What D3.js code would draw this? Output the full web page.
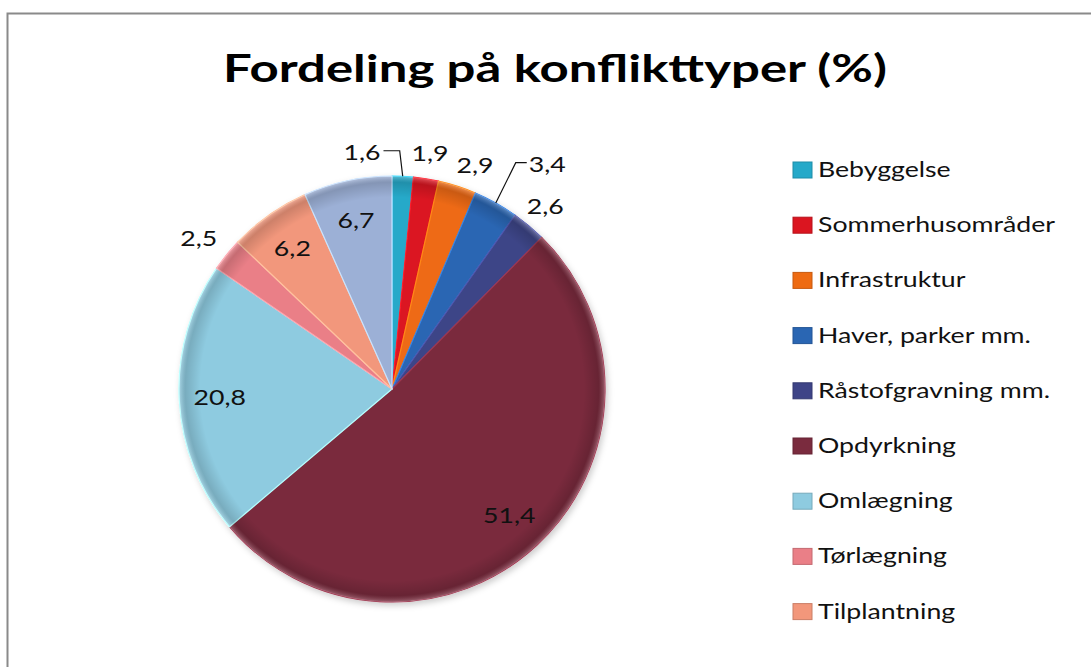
<!DOCTYPE html>
<html>
<head>
<meta charset="utf-8">
<script src="https://cdn.jsdelivr.net/npm/d3@7"></script>
<style>
	body { margin: 0; background: #fff; }
	svg { display: block; font-family: Lato, 'Open Sans', sans-serif; }
</style>
</head>
<body>
<svg></svg>
<script>

// Data
const categories = [ 'Bebyggelse', 'Sommerhusområder', 'Infrastruktur', 'Haver, parker mm.', 'Råstofgravning mm.', 'Opdyrkning', 'Omlægning', 'Tørlægning', 'Tilplantning', null ]
const values = [ 1.6, 1.9, 2.9, 3.4, 2.6, 51.4, 20.8, 2.5, 6.2, 6.7 ]
const colors = [ '#25a9c9', '#db1520', '#ee6b12', '#2a66b3', '#3e4487', '#7a2b3e', '#8ecbe0', '#ea7f87', '#f2977b', '#9cb0d6' ]
const titleText = 'Fordeling på konflikttyper (%)'

const WIDTH = 1091,
	HEIGHT = 667,
	cx = 392,
	cy = 389,
	radius = 213,
	stretch = 1.27 // tekst is horizontaal uitgerekt in het origineel

const svg = d3.select( 'svg' )
	.attr( 'width', WIDTH )
	.attr( 'height', HEIGHT )

const defs = svg.append( 'defs' )

// kader, loopt rechts en onder buiten beeld
svg.append( 'rect' )
	.attr( 'x', 7.5 )
	.attr( 'y', 13.5 )
	.attr( 'width', 1200 )
	.attr( 'height', 800 )
	.attr( 'fill', 'none' )
	.attr( 'stroke', '#8a8a8a' )
	.attr( 'stroke-width', 2 )

// titel
svg.append( 'text' )
	.attr( 'x', 223 )
	.attr( 'y', 82 )
	.attr( 'font-size', 38 )
	.attr( 'font-weight', 'bold' )
	.attr( 'fill', '#000' )
	.attr( 'textLength', 664 )
	.attr( 'lengthAdjust', 'spacingAndGlyphs' )
	.text( titleText )

// schaduw + bevel
const shadow = defs.append( 'filter' ).attr( 'id', 'shadow' )
	.attr( 'x', '-10%' ).attr( 'y', '-10%' ).attr( 'width', '120%' ).attr( 'height', '120%' )
shadow.append( 'feDropShadow' )
	.attr( 'dx', 2 ).attr( 'dy', 3 ).attr( 'stdDeviation', 3 )
	.attr( 'flood-color', '#000' ).attr( 'flood-opacity', 0.2 )

const rim = defs.append( 'radialGradient' ).attr( 'id', 'rim' )
	.attr( 'cx', '50%' ).attr( 'cy', '50%' ).attr( 'r', '50%' )
rim.append( 'stop' ).attr( 'offset', '0%' ).attr( 'stop-color', '#fff' ).attr( 'stop-opacity', 0 )
rim.append( 'stop' ).attr( 'offset', '90%' ).attr( 'stop-color', '#000' ).attr( 'stop-opacity', 0 )
rim.append( 'stop' ).attr( 'offset', '97%' ).attr( 'stop-color', '#000' ).attr( 'stop-opacity', 0.15 )
rim.append( 'stop' ).attr( 'offset', '100%' ).attr( 'stop-color', '#fff' ).attr( 'stop-opacity', 0.25 )

const pie = d3.pie().sort( null ).value( d => d )
const arcs = pie( values )
const arc = d3.arc().innerRadius( 0 ).outerRadius( radius )

const g = svg.append( 'g' ).attr( 'transform', `translate( ${cx}, ${cy} )` )

g.append( 'g' )
	.attr( 'filter', 'url(#shadow)' )
	.selectAll( 'path' )
	.data( arcs )
	.join( 'path' )
	.attr( 'd', arc )
	.attr( 'fill', ( d, i ) => colors[i] )
	.attr( 'stroke', ( d, i ) => d3.color( colors[i] ).brighter( 0.7 ) )
	.attr( 'stroke-width', 1.2 )
	.attr( 'stroke-linejoin', 'round' )

g.append( 'circle' )
	.attr( 'r', radius )
	.attr( 'fill', 'url(#rim)' )
	.attr( 'pointer-events', 'none' )

// labels: grote stukken binnen, kleine buiten
const inside = d3.arc().innerRadius( radius * 0.81 ).outerRadius( radius * 0.81 )
const outside = d3.arc().innerRadius( radius * 1.12 ).outerRadius( radius * 1.12 )
const edge = d3.arc().innerRadius( radius ).outerRadius( radius )
const nudges = { 0: [ -42, 2 ], 2: [ 10, 4 ], 3: [ 39, -16 ], 7: [ -8, 0 ] } // Excel schuift deze opzij
const leaders = [ 0, 3 ] // met een lijntje naar het stuk

const fmt = v => String( v ).replace( '.', ',' )

arcs.forEach( ( d, i ) => {
	const small = values[i] < 5
	let [ x, y ] = small ? outside.centroid( d ) : inside.centroid( d )
	const nudge = nudges[i]
	if ( nudge ) { x += nudge[0]; y += nudge[1] }

	const label = g.append( 'text' )
		.attr( 'transform', `translate( ${x}, ${y} ) scale( ${stretch}, 1 )` )
		.attr( 'text-anchor', 'middle' )
		.attr( 'dy', '0.36em' )
		.attr( 'font-size', 21 )
		.attr( 'fill', '#111' )
		.text( fmt( values[i] ) )

	if ( leaders.includes( i ) ) {
		const half = label.node().getComputedTextLength() * stretch / 2
		const [ ex, ey ] = edge.centroid( d )
		const ly = y - 2
		const pts = x < ex
			? [ [ x + half + 3, ly ], [ ex - 3, ly ], [ ex, ey ] ]
			: [ [ x - half - 2, ly ], [ x - half - 13, ly ], [ ex, ey ] ]
		g.append( 'path' )
			.attr( 'd', d3.line()( pts ) )
			.attr( 'fill', 'none' )
			.attr( 'stroke', '#111' )
			.attr( 'stroke-width', 1.2 )
	}
})

// legenda, alleen de benoemde categorien
const legend = svg.append( 'g' ).attr( 'transform', 'translate( 793, 170 )' )
const rows = legend.selectAll( 'g' )
	.data( categories.map( ( c, i ) => ( { name: c, color: colors[i] } ) ).filter( d => d.name ) )
	.join( 'g' )
	.attr( 'transform', ( d, i ) => `translate( 0, ${i * 55.2} )` )

rows.append( 'rect' )
	.attr( 'x', 0 )
	.attr( 'y', -8 )
	.attr( 'width', 19 )
	.attr( 'height', 16 )
	.attr( 'fill', d => d.color )
	.attr( 'stroke', d => d3.color( d.color ).darker( 0.5 ) )
	.attr( 'stroke-width', 1 )

rows.append( 'text' )
	.attr( 'transform', `translate( 25, 7 ) scale( ${stretch}, 1 )` )
	.attr( 'font-size', 21 )
	.attr( 'fill', '#111' )
	.text( d => d.name )

</script>
</body>
</html>
